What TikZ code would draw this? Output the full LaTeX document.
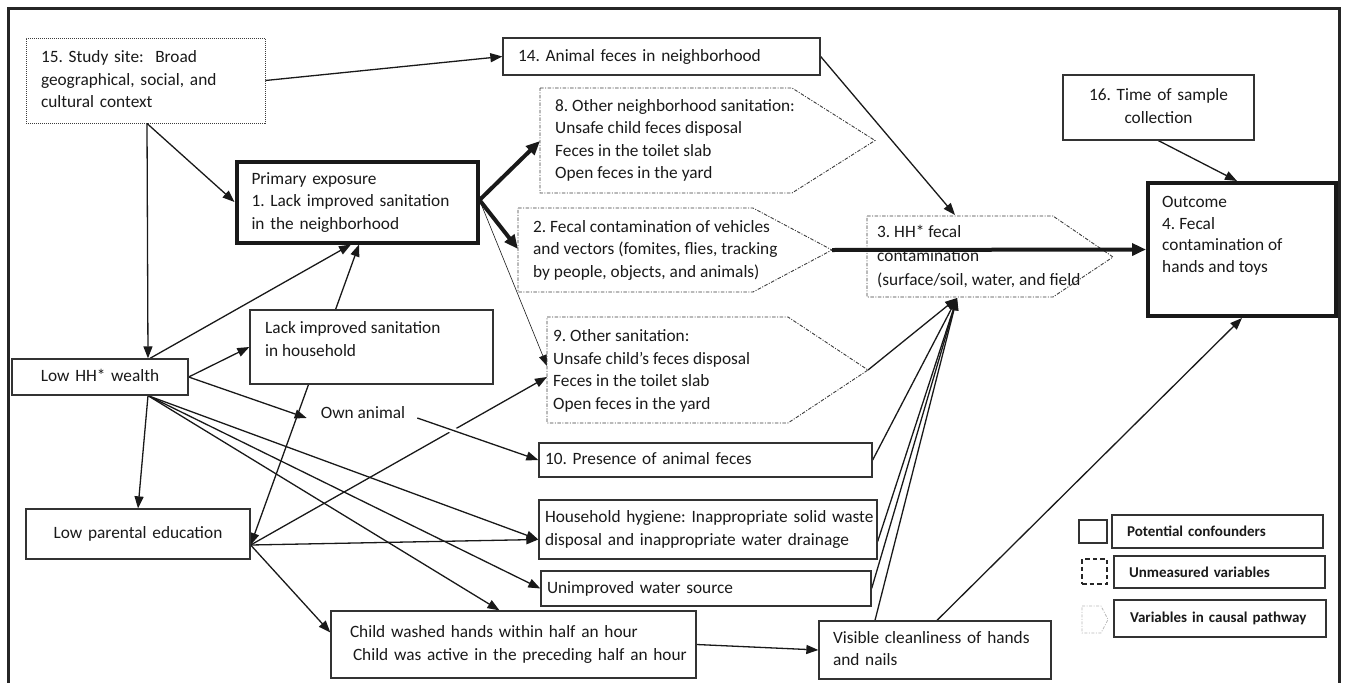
\documentclass[tikz,border=0pt]{standalone}
\usepackage{fontspec}
\setmainfont{Carlito}
\usetikzlibrary{arrows.meta,calc}
\pgfdeclarelayer{bg}
\pgfsetlayers{bg,main}
\definecolor{txt}{HTML}{1A1A1A}
\definecolor{bord}{HTML}{333333}
\definecolor{dashc}{HTML}{3C3C3C}
\newcommand\sline[1]{\mbox{\strut #1}}
\frenchspacing
\begin{document}
\frenchspacing
\begin{tikzpicture}[x=1pt,y=-1pt,
  every node/.style={text=txt},
  fnt/.style={font=\fontsize{17.3}{22.5}\selectfont},
  bx/.style={fnt, rectangle, draw=bord, line width=1.3pt, fill=white, inner ysep=0pt, align=left},
  thk/.style={bx, draw=black!90, line width=4pt},
  pent/.style={draw=dashc, line width=0.9pt, dash pattern=on 3.5pt off 1.5pt on 1pt off 1.5pt},
  lg/.style={rectangle, draw=bord, line width=1.3pt, fill=white, inner ysep=0pt, font=\bfseries\fontsize{15}{18}\selectfont, align=left},
  arr/.style={-{Triangle[length=12pt,width=9pt]}, line width=1.3pt, draw=black!90},
  tarr/.style={-{Triangle[length=14pt,width=12pt]}, line width=4pt, draw=black!90},
  narr/.style={-{Triangle[length=11pt,width=8pt]}, line width=0.6pt, draw=black!90},
]
\useasboundingbox (0,0) rectangle (1345,683);

% frame
\draw[line width=3pt, draw=black!85] (8,683) -- (8,8) -- (1339.5,8) -- (1339.5,683);

% rectangular boxes
\node[bx, draw=dashc, line width=0.9pt, dash pattern=on 1pt off 1pt, minimum width=239pt, minimum height=85pt, text width=209pt, inner xsep=15pt] (site) at (145.5,80.5)
  {\sline{15. Study site:\ \ Broad}\\\sline{geographical, social, and}\\\sline{cultural context}};
\node[thk, minimum width=241pt, minimum height=81pt, text width=211pt, inner xsep=15pt] (prim) at (357,202)
  {\sline{Primary exposure}\\\sline{1. Lack improved sanitation}\\\sline{in the neighborhood}};
\node[bx, minimum width=317pt, minimum height=37pt, text width=287pt, inner xsep=15pt] (n14) at (661.5,56.5)
  {\sline{14. Animal feces in neighborhood}};
\node[bx, align=center, minimum width=191pt, minimum height=65pt, text width=171pt, inner xsep=10pt] (n16) at (1158.5,107.5)
  {\sline{16. Time of sample}\\\sline{collection}};
\node[thk, minimum width=188pt, minimum height=133pt, inner sep=0pt] (out) at (1242,249.5) {};
\node[font=\fontsize{17.3}{21.5}\selectfont, anchor=north west, inner sep=0pt, align=left] (outT) at (1162,192.5)
  {\sline{Outcome}\\\sline{4. Fecal}\\\sline{contamination of}\\\sline{hands and toys}};
\node[bx, align=center, minimum width=176pt, minimum height=36pt, text width=160pt, inner xsep=8pt] (wealth) at (100,377)
  {\sline{Low HH* wealth}};
\node[bx, align=center, minimum width=224pt, minimum height=50pt, text width=204pt, inner xsep=10pt] (edu) at (138,534)
  {\sline{Low parental education}};
\node[bx, minimum width=243pt, minimum height=74pt, inner sep=0pt] (hh) at (371.5,347) {};
\node[fnt, anchor=north west, inner sep=0pt, align=left] (hhT) at (265,317.75)
  {\sline{Lack improved sanitation}\\\sline{in household}};
\node[fnt, inner xsep=12pt, inner ysep=2pt] (own) at (363,413) {Own animal};
\node[bx, minimum width=333pt, minimum height=34pt, text width=321pt, inner xsep=6pt] (n10) at (705.5,460)
  {\sline{10. Presence of animal feces}};
\node[bx, minimum width=338pt, minimum height=59pt, text width=326pt, inner xsep=6pt] (hyg) at (708,529.5)
  {\sline{Household hygiene: Inappropriate solid waste}\\\sline{disposal and inappropriate water drainage}};
\node[bx, minimum width=330pt, minimum height=35pt, text width=318pt, inner xsep=6pt] (water) at (706,588.5)
  {\sline{Unimproved water source}};
\node[bx, minimum width=365pt, minimum height=67pt, text width=345pt, inner xsep=10pt] (child) at (513.5,644.5)
  {\sline{\hspace*{9pt}Child washed hands within half an hour}\\\sline{\hspace*{12pt}Child was active in the preceding half an hour}};
\node[bx, minimum width=232pt, minimum height=58pt, text width=204pt, inner xsep=14pt] (vis) at (935,650)
  {\sline{Visible cleanliness of hands}\\\sline{and nails}};

% pentagons (variables in causal pathway)
\draw[pent] (540,88) -- (792,88) -- (875,140.5) -- (792,193) -- (540,193) -- cycle;
\node[fnt, anchor=west, inner sep=0pt, align=left] (p8) at (555,140.5)
  {\sline{8. Other neighborhood sanitation:}\\\sline{Unsafe child feces disposal}\\\sline{Feces in the toilet slab}\\\sline{Open feces in the yard}};
\draw[pent] (518,208) -- (753,208) -- (832,250) -- (753,292) -- (518,292) -- cycle;
\node[fnt, anchor=west, inner sep=0pt, align=left] (p2) at (533,250)
  {\sline{2. Fecal contamination of vehicles}\\\sline{and vectors (fomites, flies, tracking}\\\sline{by people, objects, and animals)}};
\draw[pent] (547,317) -- (788,317) -- (868,370) -- (788,423) -- (547,423) -- cycle;
\node[fnt, anchor=west, inner sep=0pt, align=left] (p9) at (553,371)
  {\sline{9. Other sanitation:}\\\sline{Unsafe child’s feces disposal}\\\sline{Feces in the toilet slab}\\\sline{Open feces in the yard}};
\draw[pent] (867,216) -- (1053,216) -- (1113,257) -- (1053,297) -- (867,297) -- cycle;
\node[font=\fontsize{17.3}{24}\selectfont, anchor=west, inner sep=0pt, align=left] (p3) at (877,257)
  {\sline{3. HH* fecal}\\\sline{contamination}\\\sline{(surface/soil, water, and field}};

\coordinate (p8w) at (540,141);
\coordinate (p2w) at (518,249);
\coordinate (p2t) at (832,250);
\coordinate (p9w) at (547,366);
\coordinate (p9w2) at (547,377);
\coordinate (p9t) at (868,370);
\coordinate (p3n) at (955,215);
\coordinate (p3s) at (957,298);

% legend
\node[rectangle, draw=bord, line width=1.3pt, minimum width=28pt, minimum height=23pt, inner sep=0pt] (lsq1) at (1093,531.5) {};
\node[lg, minimum width=211pt, minimum height=33pt, text width=181pt, inner xsep=15pt] (lb1) at (1217.5,531.5) {Potential confounders};
\node[rectangle, draw=black!85, line width=1.3pt, dash pattern=on 4.5pt off 3pt, minimum width=25pt, minimum height=25pt, inner sep=0pt] (lsq2) at (1094.5,571.5) {};
\node[lg, minimum width=211pt, minimum height=32pt, text width=181pt, inner xsep=15pt] (lb2) at (1219.5,572) {Unmeasured variables};
\draw[draw=gray!55, line width=0.8pt, dash pattern=on 3pt off 1.5pt on 1pt off 1.5pt] (1082,606) -- (1101,606) -- (1108,619.5) -- (1101,633) -- (1082,633) -- cycle;
\node[lg, minimum width=212pt, minimum height=37pt, text width=180pt, inner xsep=16pt] (lb3) at (1220,618.5) {Variables in causal pathway};

% connectors
\begin{pgfonlayer}{bg}
\draw[arr] (site.east) -- (n14.west);
\draw[arr] ([xshift=1.5pt]site.south) -- (prim.west);
\draw[arr] ([xshift=1.5pt]site.south) -- ([xshift=48pt]wealth.north);
\draw[arr] ([xshift=50pt]wealth.north) -- ([xshift=-6pt]prim.south);
\draw[arr] (wealth.east) -- (hh.west);
\draw[arr] (wealth.east) -- ([xshift=-2pt,yshift=-5pt]own.west);
\draw[arr] ([xshift=48pt]wealth.south) -- (edu.north);
\draw[arr] ([xshift=48pt]wealth.south) -- ([yshift=-10pt]hyg.west);
\draw[arr] ([xshift=48pt]wealth.south) -- (water.west);
\draw[arr] ([xshift=48pt]wealth.south) -- ([xshift=-14pt]child.north);
\coordinate (E) at ([yshift=-11pt]edu.east);
\draw[arr] (E) -- (p9w2);
\draw[arr] (E) -- ([yshift=-10pt]hyg.west);
\draw[arr] (E) -- ([yshift=12pt]child.west);
\draw[{Triangle[length=12pt,width=9pt]}-{Triangle[length=12pt,width=9pt]}, line width=1.3pt, draw=black!90] (E) -- ([xshift=2pt]prim.south);
\draw[arr, preaction={draw=white, line width=6pt, -, shorten >=14pt}] ([yshift=-5pt]own.east) -- (n10.west);
\draw[tarr] ([yshift=2pt]prim.east) -- (p8w);
\draw[tarr] ([yshift=2pt]prim.east) -- (p2w);
\draw[narr] ([yshift=2pt]prim.east) -- (p9w);
\draw[arr] (n14.east) -- (p3n);
\draw[arr] (p9t) -- (p3s);
\draw[arr] (n10.east) -- (p3s);
\draw[arr] ([yshift=-12pt]hyg.east) -- (p3s);
\draw[arr] (water.east) -- (p3s);
\draw[arr] ([xshift=-60pt]vis.north) -- (p3s);
\draw[arr] ([xshift=2pt]vis.north) -- (out.south);
\draw[arr] (n16.south) -- ([xshift=-5pt]out.north);
\draw[arr] (child.east) -- (vis.west);
\end{pgfonlayer}
\draw[tarr] (p2t) -- (out.west);
\end{tikzpicture}
\end{document}
